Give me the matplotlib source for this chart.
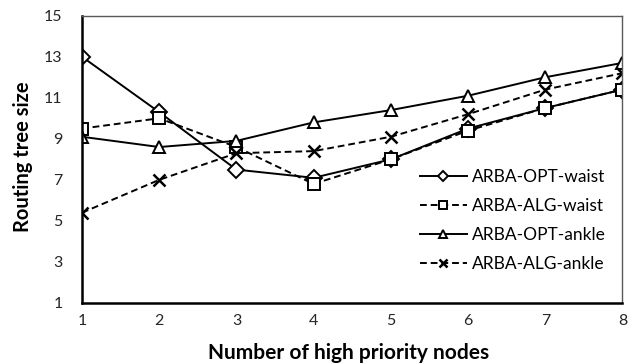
import matplotlib
matplotlib.use("Agg")
import matplotlib.pyplot as plt

plt.rcParams['font.family'] = ['Lato', 'DejaVu Sans']

nodes = [1, 2, 3, 4, 5, 6, 7, 8]
opt_waist = [13.0, 10.3, 7.5, 7.1, 8.0, 9.5, 10.5, 11.4]
alg_waist = [9.5, 10.0, 8.6, 6.8, 8.0, 9.4, 10.5, 11.4]
opt_ankle = [9.1, 8.6, 8.9, 9.8, 10.4, 11.1, 12.0, 12.7]
alg_ankle = [5.4, 7.0, 8.3, 8.4, 9.1, 10.2, 11.4, 12.2]
y_ticks = [1, 3, 5, 7, 9, 11, 13, 15]

fig = plt.figure(figsize=(6.37, 3.64), dpi=100)
ax = fig.add_axes([0.1287, 0.1676, 0.8485, 0.7893])

line_kw = dict(color='black', linewidth=1.4, markerfacecolor='white',
               markeredgecolor='black', markeredgewidth=1.4)
ax.plot(nodes, opt_waist, linestyle='-', marker='D', markersize=8,
        label='ARBA-OPT-waist', **line_kw)
ax.plot(nodes, alg_waist, linestyle='--', dashes=(3.5, 2), marker='s', markersize=9,
        label='ARBA-ALG-waist', **line_kw)
ax.plot(nodes, opt_ankle, linestyle='-', marker='^', markersize=8,
        label='ARBA-OPT-ankle', **line_kw)
ax.plot(nodes, alg_ankle, linestyle='--', dashes=(3.5, 2), marker='x', markersize=9,
        label='ARBA-ALG-ankle', **{**line_kw, 'markeredgewidth': 1.8})

ax.set_xlim(1, 8)
ax.set_ylim(1, 15)
ax.set_xticks(nodes)
ax.set_yticks(y_ticks)
ax.tick_params(length=0, labelsize=11.5, colors='#262626')
ax.tick_params(axis='y', pad=14)
ax.tick_params(axis='x', pad=8)

for side in ('left', 'bottom'):
    ax.spines[side].set_linewidth(1.8)
    ax.spines[side].set_color('black')
for side in ('top', 'right'):
    ax.spines[side].set_linewidth(1.0)
    ax.spines[side].set_color('#595959')

ax.set_xlabel('Number of high priority nodes', fontsize=15, fontweight='bold')
ax.set_ylabel('Routing tree size', fontsize=14.5, fontweight='bold')
ax.xaxis.set_label_coords(0.493, -0.14)
ax.yaxis.set_label_coords(-0.09, 0.51)

ax.legend(loc='center left', bbox_to_anchor=(0.625, 0.286), frameon=False,
          fontsize=12.5, handlelength=2.7, handletextpad=0.3, labelspacing=0.75,
          markerscale=0.7, borderpad=0, borderaxespad=0)

fig.savefig('out.png', dpi=100)
